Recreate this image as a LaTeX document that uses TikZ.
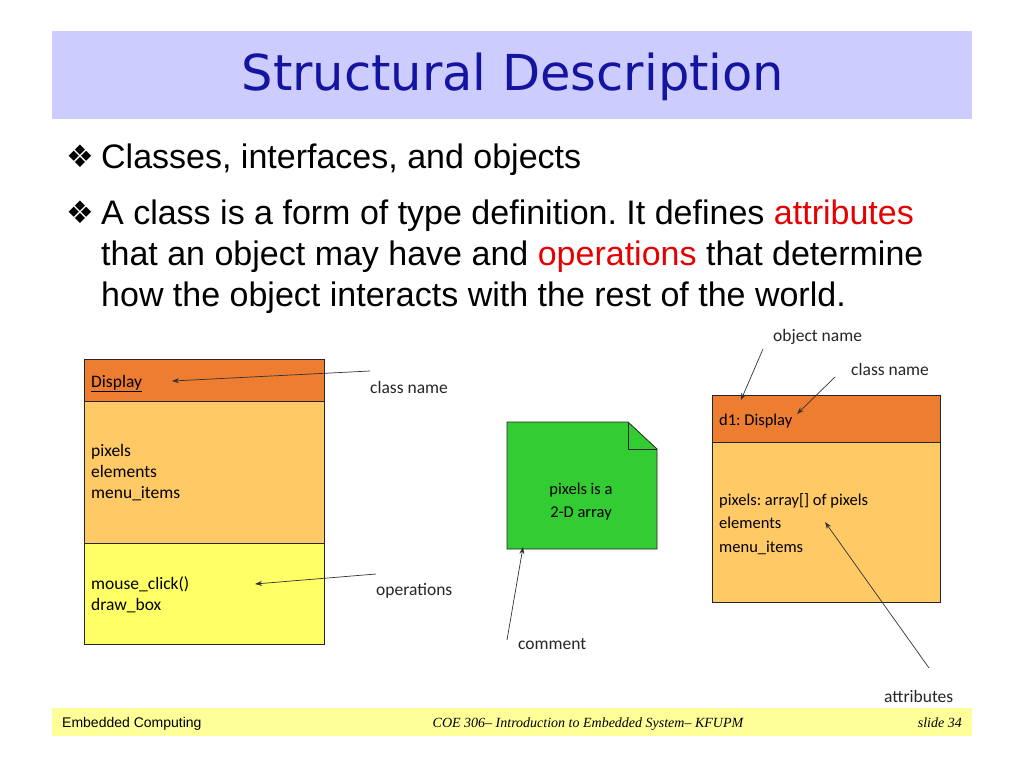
\documentclass[tikz,border=0pt]{standalone}
\usepackage{fontspec}
\setmainfont{Liberation Sans}
\newfontfamily\calfont{Carlito}
\newfontfamily\dejafont{DejaVu Sans}
\newfontfamily\timesfont{Liberation Serif}
\usetikzlibrary{arrows.meta}
\definecolor{titleband}{RGB}{204,204,255}
\definecolor{titleblue}{RGB}{20,20,160}
\definecolor{hdr}{RGB}{237,125,49}
\definecolor{attrfill}{RGB}{255,201,102}
\definecolor{opfill}{RGB}{255,255,102}
\definecolor{notegreen}{RGB}{51,204,51}
\definecolor{footband}{RGB}{255,255,153}
\definecolor{hlred}{RGB}{230,0,0}
\frenchspacing
\begin{document}
\begin{tikzpicture}[x=1pt,y=-1pt,
  body/.style={font=\fontsize{34}{41}\selectfont, inner sep=0, anchor=base west},
  bulletmark/.style={font=\dejafont\fontsize{31}{34}\selectfont, inner sep=0},
  box/.style={draw=black!85, line width=0.8pt, inner sep=0, anchor=north west},
  clsL/.style={font=\calfont\fontsize{17.5}{21}\selectfont, inner sep=0, anchor=base west},
  clsR/.style={font=\calfont\fontsize{16.5}{20}\selectfont, inner sep=0, anchor=base west},
  lbl/.style={font=\calfont\fontsize{17.5}{21}\selectfont, inner sep=0, anchor=base west, text=black!85},
  ptr/.style={draw=black!80, line width=0.7pt, -{Stealth[length=7pt,width=5pt]}},
  foot/.style={font=\fontsize{14}{16}\selectfont, inner sep=0},
]
\useasboundingbox (0,0) rectangle (1024,768);
\fill[white] (0,0) rectangle (1024,768);

% title band
\fill[titleband] (52,31) rectangle (972,119);
\node[font=\dejafont\fontsize{49.5}{56}\selectfont, text=titleblue, inner sep=0] (title) at (513,77) {Structural Description};

% bullets
\node[bulletmark] (m1) at (80,156) {❖};
\node[body] (b1) at (101,168) {Classes, interfaces, and objects};
\node[bulletmark] (m2) at (80,212) {❖};
\node[body] (b2) at (101,224) {A class is a form of type definition. It defines \textcolor{hlred}{attributes}};
\node[body] (b3) at (101,265) {that an object may have and \textcolor{hlred}{operations} that determine};
\node[body] (b4) at (101,306) {how the object interacts with the rest of the world.};

% left class box
\node[box, fill=hdr, minimum width=240pt, minimum height=42pt] (lh) at (84,359) {};
\node[box, fill=attrfill, minimum width=240pt, minimum height=142pt] (lm) at (84,401) {};
\node[box, fill=opfill, minimum width=240pt, minimum height=101pt] (lb) at (84,543) {};
\node[clsL] (ldisp) at (91,387) {\underline{Display}};
\node[clsL] (lpix) at (91,456) {pixels};
\node[clsL] (lel) at (91,477) {elements};
\node[clsL] (lmenu) at (91,498) {menu\_items};
\node[clsL] (lmouse) at (91,589) {mouse\_click()};
\node[clsL] (ldraw) at (91,610) {draw\_box};

\node[lbl] (cnL) at (370,393) {class name};
\node[lbl] (opL) at (376,595) {operations};
\coordinate (cnLs) at (370,371);
\coordinate (cnLe) at (172,381);
\coordinate (opLs) at (376,574);
\coordinate (opLe) at (255,584);
\draw[ptr] (cnLs) -- (cnLe);
\draw[ptr] (opLs) -- (opLe);

% note
\draw[draw=black!85, line width=0.8pt, fill=notegreen] (507,422) -- (628,422) -- (657,449) -- (657,549) -- (507,549) -- cycle;
\draw[draw=black!85, line width=0.8pt] (628,422) -- (628,449) -- (657,449);
\node[font=\calfont\fontsize{16.5}{20}\selectfont, inner sep=0, anchor=base] (n1) at (581,494) {pixels is a};
\node[font=\calfont\fontsize{16.5}{20}\selectfont, inner sep=0, anchor=base] (n2) at (581,517) {2-D array};
\node[lbl] (cmt) at (518,649) {comment};
\coordinate (cmts) at (507,640);
\coordinate (cmte) at (523,547);
\draw[ptr] (cmts) -- (cmte);

% right object box
\node[box, fill=hdr, minimum width=228pt, minimum height=47pt] (rh) at (712,395) {};
\node[box, fill=attrfill, minimum width=228pt, minimum height=160pt] (rm) at (712,442) {};
\node[clsR] (rdisp) at (719,425) {d1: Display};
\node[clsR] (rpix) at (719,505) {pixels: array[] of pixels};
\node[clsR] (rel) at (719,528) {elements};
\node[clsR] (rmenu) at (719,552) {menu\_items};

\node[lbl] (onR) at (773,341) {object name};
\node[lbl] (cnR) at (851,375) {class name};
\node[lbl] (atR) at (884,702) {attributes};
\coordinate (onRs) at (763,349);
\coordinate (onRe) at (741,400);
\coordinate (cnRs) at (835,377);
\coordinate (cnRe) at (797,414);
\coordinate (atRs) at (929,668);
\coordinate (atRe) at (825,522);
\draw[ptr] (onRs) -- (onRe);
\draw[ptr] (cnRs) -- (cnRe);
\draw[ptr] (atRs) -- (atRe);

% footer
\fill[footband] (52,708) rectangle (972,736);
\node[foot, anchor=base west] (f1) at (62,727) {Embedded Computing};
\node[foot, font=\timesfont\itshape\fontsize{14}{16}\selectfont, anchor=base] (f2) at (588,727) {COE 306– Introduction to Embedded System– KFUPM};
\node[foot, font=\timesfont\itshape\fontsize{14}{16}\selectfont, anchor=base east] (f3) at (962,727) {slide 34};
\end{tikzpicture}
\end{document}
